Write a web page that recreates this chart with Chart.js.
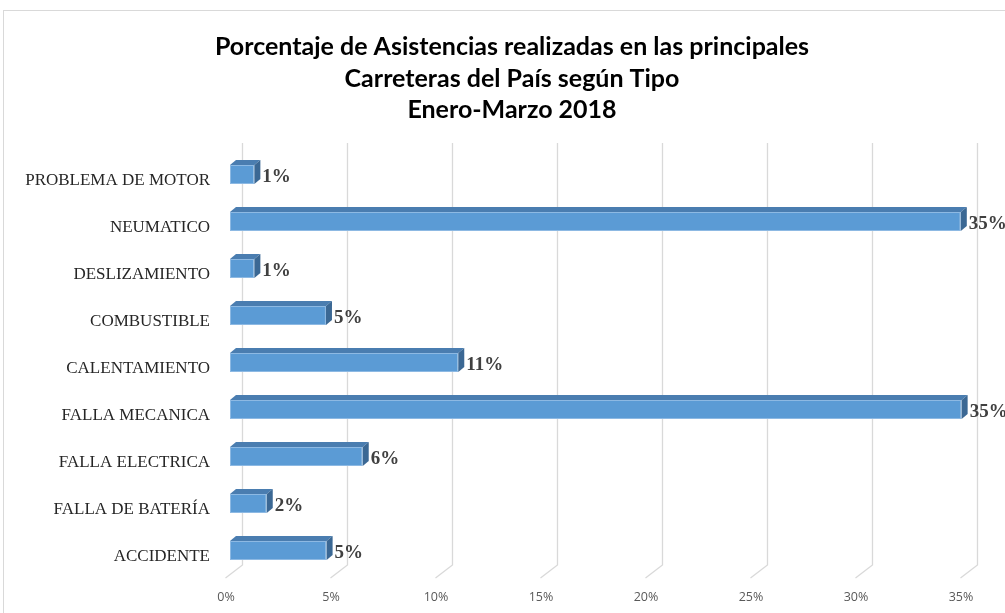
<!DOCTYPE html>
<html>
<head>
<meta charset="utf-8">
<script src="https://cdn.jsdelivr.net/npm/chart.js@4.4.1/dist/chart.umd.min.js"></script>
<style>
html,body{margin:0;padding:0;background:#fff;}
#wrap{width:1005px;height:613px;position:relative;}
</style>
</head>
<body>
<div id="wrap"><canvas id="c" width="1005" height="613"></canvas></div>
<script>
const titleLines = ["Porcentaje de Asistencias realizadas en las principales", "Carreteras del País según Tipo", "Enero-Marzo 2018"];
const categories = ["PROBLEMA DE MOTOR", "NEUMATICO", "DESLIZAMIENTO", "COMBUSTIBLE", "CALENTAMIENTO", "FALLA MECANICA", "FALLA ELECTRICA", "FALLA DE BATERÍA", "ACCIDENTE"];
const values = [1.16, 34.8, 1.16, 4.57, 10.87, 34.84, 6.32, 1.75, 4.6];
const xTicks = [0, 5, 10, 15, 20, 25, 30, 35];

const DX = 6, DY = -5;

const framePlugin = {
  id: 'frame',
  beforeDraw(chart) {
    const ctx = chart.ctx;
    ctx.save();
    ctx.fillStyle = '#fff';
    ctx.fillRect(0, 0, chart.width, chart.height);
    ctx.strokeStyle = '#d9d9d9';
    ctx.lineWidth = 1;
    ctx.strokeRect(3.5, 10.5, 1010, 700);
    // title
    ctx.fillStyle = '#000';
    ctx.font = 'bold 25px Lato';
    ctx.textAlign = 'center';
    ctx.textBaseline = 'middle';
    const ys = [47, 78.5, 110];
    titleLines.forEach((t, i) => ctx.fillText(t, 512, ys[i]));
    ctx.restore();
  },
  beforeDatasetsDraw(chart) {
    const ctx = chart.ctx;
    const xs = chart.scales.x;
    ctx.save();
    ctx.strokeStyle = '#d9d9d9';
    ctx.lineWidth = 1.3;
    xTicks.forEach(v => {
      const x = Math.round(xs.getPixelForValue(v)) + 0.5;
      ctx.beginPath();
      ctx.moveTo(x + 12, 143);
      ctx.lineTo(x + 12, 565);
      ctx.lineTo(x - 5, 578);
      ctx.stroke();
    });
    ctx.restore();
  },
  afterDatasetsDraw(chart) {
    const ctx = chart.ctx;
    const meta = chart.getDatasetMeta(0);
    ctx.save();
    meta.data.forEach((bar, i) => {
      const left = bar.base, right = bar.x;
      const top = bar.y - bar.height / 2, bottom = bar.y + bar.height / 2;
      // top face
      ctx.fillStyle = '#4a7db0';
      ctx.beginPath();
      ctx.moveTo(left, top);
      ctx.lineTo(left + DX, top + DY);
      ctx.lineTo(right + DX, top + DY);
      ctx.lineTo(right, top);
      ctx.closePath();
      ctx.fill();
      // side face
      ctx.fillStyle = '#3b6894';
      ctx.beginPath();
      ctx.moveTo(right, top);
      ctx.lineTo(right + DX, top + DY);
      ctx.lineTo(right + DX, bottom + DY);
      ctx.lineTo(right, bottom);
      ctx.closePath();
      ctx.fill();
      // label
      ctx.fillStyle = '#404040';
      ctx.font = 'bold 19px "Liberation Serif"';
      ctx.textAlign = 'left';
      ctx.textBaseline = 'middle';
      ctx.fillText(Math.round(values[i]) + '%', right + DX + 2, bar.y + 3);
    });
    ctx.restore();
  }
};

new Chart(document.getElementById('c'), {
  type: 'bar',
  data: {
    labels: categories,
    datasets: [{
      data: values,
      backgroundColor: '#5b9bd5',
      borderColor: '#8db9e3',
      borderWidth: 1,
      borderSkipped: false,
      categoryPercentage: 1,
      barPercentage: 0.405
    }]
  },
  options: {
    indexAxis: 'y',
    responsive: false,
    devicePixelRatio: 1,
    animation: false,
    layout: { padding: { top: 151, left: 0, right: 40, bottom: 0 } },
    plugins: {
      legend: { display: false },
      title: { display: false },
      tooltip: { enabled: false }
    },
    scales: {
      x: {
        min: 0, max: 35,
        afterFit(s) { s.height = 39; },
        afterBuildTicks(s) { s.ticks = xTicks.map(v => ({ value: v })); },
        grid: { display: false, drawTicks: false },
        border: { display: false },
        ticks: {
          padding: 16,
          labelOffset: -4,
          color: '#595959',
          font: { family: '"Open Sans"', size: 12.5 },
          callback: v => v + '%'
        }
      },
      y: {
        afterFit(s) { s.width = 230; },
        grid: { display: false, drawTicks: false },
        border: { display: false },
        ticks: {
          padding: 20,
          labelOffset: 6,
          color: '#262626',
          font: { family: '"Liberation Serif"', size: 17 }
        }
      }
    }
  },
  plugins: [framePlugin]
});
</script>
</body>
</html>
